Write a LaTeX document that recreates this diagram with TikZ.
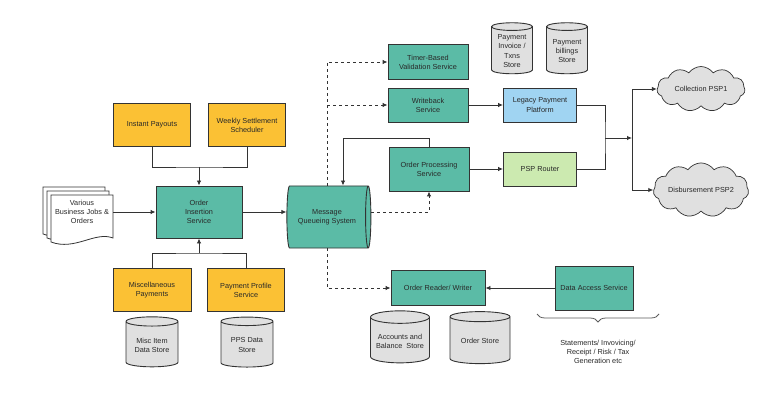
\documentclass[tikz,border=0pt]{standalone}
\usepackage{fontspec}
\setmainfont{Liberation Sans}
\usetikzlibrary{shapes.geometric,shapes.symbols,arrows.meta,decorations.pathreplacing,calc}
\definecolor{tealc}{RGB}{91,187,166}
\definecolor{yelc}{RGB}{251,193,52}
\definecolor{bluec}{RGB}{160,212,242}
\definecolor{greenc}{RGB}{204,234,176}
\definecolor{grayc}{RGB}{224,224,224}
\definecolor{linec}{RGB}{51,51,51}
\definecolor{txt}{RGB}{40,40,40}
\newcommand{\fsz}{\fontsize{7.3}{9.2}\selectfont}
\begin{document}
\begin{tikzpicture}[x=1pt,y=-1pt,
  box/.style={draw=linec, line width=0.9pt, align=center, font=\fsz, text=txt, inner sep=2pt},
  tealbox/.style={box, fill=tealc},
  yelbox/.style={box, fill=yelc},
  store/.style={cylinder, shape border rotate=90, aspect=0.25, draw=linec, line width=0.9pt, fill=grayc, align=center, font=\fsz, text=txt, inner sep=1pt},
  pcloud/.style={cloud, cloud puffs=11, cloud puff arc=110, aspect=2.2, draw=linec, line width=0.7pt, fill=grayc, font=\fsz, text=txt, inner sep=0pt},
  conn/.style={draw=linec, line width=0.9pt},
  arr/.style={conn, -{Latex[length=5pt,width=4.5pt]}},
  dsh/.style={arr, dash pattern=on 3pt off 3pt},
  plain/.style={font=\fsz, text=txt, align=center}
]
\useasboundingbox (0,0) rectangle (768,406);

% documents stack
\foreach \ox/\oy in {43/187, 47/191, 51/195}{
  \draw[linec, line width=0.8pt, fill=white] (\ox,\oy) -- (\ox+62,\oy) -- (\ox+62,\oy+43)
     .. controls (\ox+44,\oy+36) and (\ox+24,\oy+56) .. (\ox,\oy+47) -- cycle;
}
\node[plain, minimum width=62pt, inner sep=0pt] (docs) at (82,212) {Various\\Business Jobs \&\\Orders};

% yellow boxes
\node[yelbox, minimum width=77pt, minimum height=43pt] (ip) at (152,125) {Instant Payouts};
\node[yelbox, minimum width=77pt, minimum height=43pt] (wss) at (247,125) {Weekly Settlement\\Scheduler};
\node[yelbox, minimum width=78pt, minimum height=43pt] (mp) at (152,290) {Miscellaneous\\Payments};
\node[yelbox, minimum width=77pt, minimum height=43pt] (pps) at (246,290) {Payment Profile\\Service};

% order insertion
\node[tealbox, minimum width=86pt, minimum height=52pt] (ois) at (199,212) {Order\\Insertion\\Service};

% stores
\node[store, minimum width=52pt, minimum height=50pt] (mis) at (152,345) {Misc Item\\Data Store};
\node[store, minimum width=52pt, minimum height=50pt] (ppsd) at (247,345) {PPS Data\\Store};
\node[store, minimum width=41pt, minimum height=51pt] (pis) at (512,51) {Payment\\Invoice /\\Txns\\Store};
\node[store, minimum width=41pt, minimum height=51pt] (pbs) at (567,51) {Payment\\billings\\Store};
\node[store, minimum width=59pt, minimum height=52pt] (abs) at (400,341) {Accounts and\\Balance~ Store};
\node[store, minimum width=60pt, minimum height=52pt] (ost) at (480,341) {Order Store};

% message queue
\node[cylinder, aspect=0.3, draw=linec, line width=0.9pt, fill=tealc, font=\fsz, text=txt, align=center,
      minimum width=62pt, minimum height=84pt, inner sep=1pt] (mq) at (327,217) {Message\\Queueing System};

% right teal boxes
\node[tealbox, minimum width=80pt, minimum height=35pt] (tbv) at (428,62) {Timer-Based\\Validation Service};
\node[tealbox, minimum width=80pt, minimum height=34pt] (wb) at (428,105) {Writeback\\Service};
\node[tealbox, minimum width=80pt, minimum height=44pt] (ops) at (429,169) {Order Processing\\Service};
\node[tealbox, minimum width=94pt, minimum height=35pt] (orw) at (438,288) {Order Reader/ Writer};
\node[tealbox, minimum width=78pt, minimum height=44pt] (das) at (594,288) {Data Access Service};

\node[box, fill=bluec, minimum width=73pt, minimum height=34pt] (lpp) at (540,105) {Legacy Payment\\Platform};
\node[box, fill=greenc, minimum width=73pt, minimum height=34pt] (psr) at (540,169) {PSP Router};

% clouds
\node[pcloud, minimum width=88pt, minimum height=45pt] (c1) at (701,89) {Collection PSP1};
\node[pcloud, minimum width=88pt, minimum height=44pt] (c2) at (701,190) {Disbursement PSP2};

% brace + text
\coordinate (bl) at (537,314);
\coordinate (br) at (659,314);
\draw[decorate, decoration={brace, mirror, amplitude=8pt}, draw=linec!80, line width=0.8pt] (bl) -- (br);
\node[plain] (stm) at (598,352) {Statements/ Invovicing/\\Receipt / Risk / Tax\\Generation etc};

% connectors left
\coordinate (jt) at (199,167);
\coordinate (jb) at (199,253);
\draw[conn] (ip.south) |- (jt) -| (wss.south);
\draw[arr] (jt) -- (ois.north);
\draw[conn] (mp.north) |- (jb) -| (pps.north);
\draw[arr] (jb) -- (ois.south);
\draw[arr] (docs.east) -- (ois.west);
\draw[arr] (ois.east) -- (ois.east -| mq.west);

% message queue dashed
\draw[dsh] (mq.north) |- (tbv.west);
\draw[dsh] (mq.north |- wb.west) -- (wb.west);
\draw[dsh] (mq.south) |- (orw.west);
\draw[dsh] (ois.east -| mq.east) -| (ops.south);
\coordinate (opt) at (343,138);
\draw[arr] (ops.north) |- (opt) -- (opt |- mq.north);

% right connectors
\draw[arr] (wb.east) -- (lpp.west);
\draw[arr] (ops.east) -- (psr.west);
\draw[arr] (das.west) -- (orw.east);
\coordinate (j1) at (605,138);
\coordinate (j2) at (632,138);
\draw[conn] (lpp.east) -| (j1) |- (psr.east);
\draw[arr] (j1) -- (j2);
\draw[arr] (j2) |- (c1.west);
\draw[arr] (j2) |- (c2.west);
\end{tikzpicture}
\end{document}
